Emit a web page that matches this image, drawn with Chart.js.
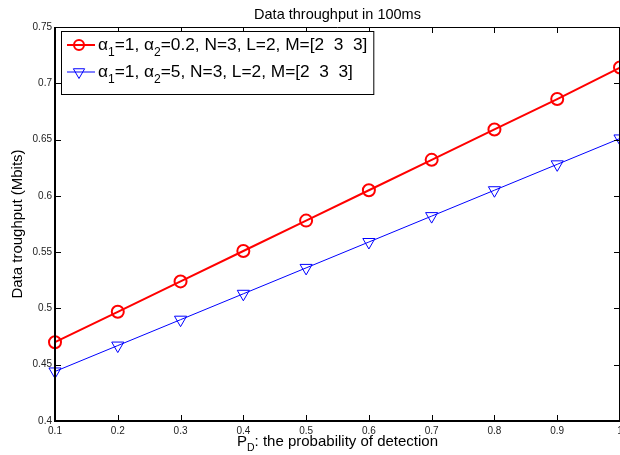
<!DOCTYPE html>
<html>
<head>
<meta charset="utf-8">
<script src="https://cdn.jsdelivr.net/npm/chart.js@4"></script>
<style>
  html, body { margin: 0; padding: 0; overflow: hidden; background: #fff; }
  #wrap { width: 640px; height: 455px; }
</style>
</head>
<body>
<div id="wrap"><canvas id="chart" width="640" height="455"></canvas></div>
<script>
// values
const pdValues = [0.1, 0.2, 0.3, 0.4, 0.5, 0.6, 0.7, 0.8, 0.9, 1.0];
const alpha02Values = [0.470, 0.497, 0.524, 0.551, 0.578, 0.605, 0.632, 0.659, 0.686, 0.714];
const alpha5Values = [0.444, 0.467, 0.490, 0.513, 0.536, 0.559, 0.582, 0.605, 0.628, 0.651];
const xTickLabels = ['0.1', '0.2', '0.3', '0.4', '0.5', '0.6', '0.7', '0.8', '0.9', '1'];
const yTickLabels = ['0.4', '0.45', '0.5', '0.55', '0.6', '0.65', '0.7', '0.75'];

const FONT = '"Liberation Sans", Arial, sans-serif';

function toPoints(xs, ys) {
    return xs.map((x, i) => ({x: x, y: ys[i]}));
}

// draws text pieces, some of them as subscripts
function drawRich(ctx, parts, x, y, size) {
    for (const [txt, sub] of parts) {
        ctx.font = (sub ? size * 0.7 : size) + 'px ' + FONT;
        ctx.fillText(txt, x, y + (sub ? size * 0.32 : 0));
        x += ctx.measureText(txt).width;
    }
    return x;
}
function richWidth(ctx, parts, size) {
    let w = 0;
    for (const [txt, sub] of parts) {
        ctx.font = (sub ? size * 0.7 : size) + 'px ' + FONT;
        w += ctx.measureText(txt).width;
    }
    return w;
}

function drawTriangleDown(ctx, cx, cy, r) {
    ctx.beginPath();
    ctx.moveTo(cx, cy + r);
    ctx.lineTo(cx - 0.866 * r, cy - 0.5 * r);
    ctx.lineTo(cx + 0.866 * r, cy - 0.5 * r);
    ctx.closePath();
    ctx.stroke();
}

const legendRows = [
    {color: '#ff0000', width: 2, marker: 'circle',
     parts: [['α', 0], ['1', 1], ['=1, α', 0], ['2', 1], ['=0.2, N=3, L=2, M=[2  3  3]', 0]]},
    {color: '#0000ff', width: 1, marker: 'triangle',
     parts: [['α', 0], ['1', 1], ['=1, α', 0], ['2', 1], ['=5, N=3, L=2, M=[2  3  3]', 0]]}
];

const framePlugin = {
    id: 'frame',
    afterDraw(chart) {
        const ctx = chart.ctx;
        const {left, top, right, bottom} = chart.chartArea;
        const xs = chart.scales.x, ys = chart.scales.y;
        ctx.save();
        ctx.strokeStyle = '#000';
        // frame
        ctx.lineWidth = 1;
        ctx.beginPath();
        ctx.moveTo(left, top + 0.5); ctx.lineTo(right, top + 0.5);
        ctx.moveTo(right - 0.5, top); ctx.lineTo(right - 0.5, bottom);
        ctx.stroke();
        ctx.lineWidth = 2;
        ctx.beginPath();
        ctx.moveTo(left, top); ctx.lineTo(left, bottom);
        ctx.lineTo(right, bottom);
        ctx.stroke();
        // inward ticks
        ctx.lineWidth = 1;
        ctx.beginPath();
        xs.ticks.forEach(t => {
            const px = Math.round(xs.getPixelForValue(t.value)) + 0.5;
            ctx.moveTo(px, bottom); ctx.lineTo(px, bottom - 6);
            ctx.moveTo(px, top); ctx.lineTo(px, top + 6);
        });
        ys.ticks.forEach(t => {
            const py = Math.round(ys.getPixelForValue(t.value)) + 0.5;
            ctx.moveTo(left, py); ctx.lineTo(left + 6, py);
            ctx.moveTo(right, py); ctx.lineTo(right - 6, py);
        });
        ctx.stroke();

        // title
        ctx.fillStyle = '#000';
        ctx.font = '14.5px ' + FONT;
        ctx.textAlign = 'center';
        ctx.textBaseline = 'alphabetic';
        ctx.fillText('Data throughput in 100ms', (left + 620) / 2, 19);

        // y title
        ctx.save();
        ctx.translate(18, (top + bottom) / 2);
        ctx.rotate(-Math.PI / 2);
        ctx.textBaseline = 'middle';
        ctx.font = '15px ' + FONT;
        ctx.fillText('Data troughput (Mbits)', 0, 0);
        ctx.restore();

        // x title with subscript
        ctx.textAlign = 'left';
        ctx.textBaseline = 'alphabetic';
        const xParts = [['P', 0], ['D', 1], [': the probability of detection', 0]];
        const xw = richWidth(ctx, xParts, 15);
        drawRich(ctx, xParts, (left + 620) / 2 - xw / 2, 446, 15);

        // legend box
        const size = 17.3;
        const bx = 61, by = 31, textX = 98;
        let maxW = 0;
        legendRows.forEach(r => { maxW = Math.max(maxW, richWidth(ctx, r.parts, size)); });
        const bw = textX + maxW + 6 - bx, bh = 63;
        ctx.fillStyle = '#fff';
        ctx.fillRect(bx, by, bw, bh);
        ctx.strokeStyle = '#000';
        ctx.lineWidth = 1;
        ctx.strokeRect(bx + 0.5, by + 0.5, bw, bh);
        legendRows.forEach((r, i) => {
            const cy = by + 14 + i * 27;
            ctx.strokeStyle = r.color;
            ctx.lineWidth = r.width;
            ctx.beginPath();
            ctx.moveTo(67, cy); ctx.lineTo(95, cy);
            ctx.stroke();
            if (r.marker === 'circle') {
                ctx.beginPath();
                ctx.arc(79, cy, 5, 0, Math.PI * 2);
                ctx.stroke();
            } else {
                drawTriangleDown(ctx, 79, cy, 6.5);
            }
            ctx.fillStyle = '#000';
            drawRich(ctx, r.parts, textX, cy + 5, size);
        });
        ctx.restore();
    }
};

const data = {
    datasets: [{
            label: 'alpha2=0.2',
            data: toPoints(pdValues, alpha02Values),
            borderColor: '#ff0000',
            backgroundColor: 'rgba(0,0,0,0)',
            borderWidth: 2,
            pointStyle: 'circle',
            pointRadius: 6,
            pointBorderWidth: 2,
            pointBackgroundColor: 'rgba(0,0,0,0)',
            clip: false
        }, {
            label: 'alpha2=5',
            data: toPoints(pdValues, alpha5Values),
            borderColor: '#0000ff',
            backgroundColor: 'rgba(0,0,0,0)',
            borderWidth: 1,
            pointStyle: 'triangle',
            pointRotation: 180,
            pointRadius: 7,
            pointBorderWidth: 1,
            pointBackgroundColor: 'rgba(0,0,0,0)',
            clip: false
        }]
};

const config = {
    type: 'line',
    data: data,
    options: {
        responsive: false,
        animation: false,
        layout: {padding: {top: 27, right: 20, left: 0, bottom: 0}},
        plugins: {
            legend: {display: false},
            title: {display: false},
            tooltip: {enabled: false}
        },
        scales: {
            x: {
                type: 'linear',
                min: 0.1,
                max: 1,
                grid: {display: false, drawTicks: false},
                border: {display: false},
                ticks: {
                    stepSize: 0.1,
                    padding: 4,
                    maxRotation: 0,
                    autoSkip: false,
                    color: '#222',
                    font: {family: FONT, size: 10},
                    callback: (v, i) => xTickLabels[i]
                },
                afterFit(scale) { scale.height = 34; }
            },
            y: {
                min: 0.4,
                max: 0.75,
                grid: {display: false, drawTicks: false},
                border: {display: false},
                ticks: {
                    stepSize: 0.05,
                    padding: 3,
                    autoSkip: false,
                    color: '#222',
                    font: {family: FONT, size: 10},
                    callback: (v, i) => yTickLabels[i]
                },
                afterFit(scale) { scale.width = 55; }
            }
        }
    },
    plugins: [framePlugin]
};

let ctx = document.getElementById('chart').getContext('2d');
new Chart(ctx, config);
</script>
</body>
</html>
